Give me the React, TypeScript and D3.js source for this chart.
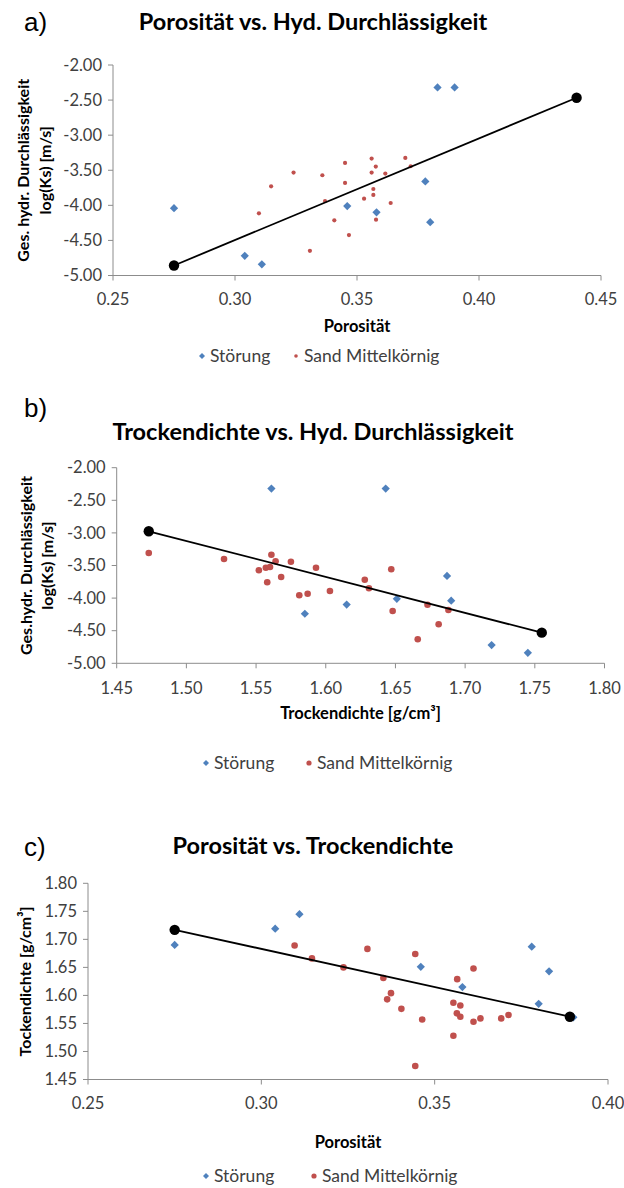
import React from "react";
import * as d3 from "d3";

// ---------- data ----------
const stoerungPorositaet = [0.275, 0.304, 0.311, 0.346, 0.358, 0.378, 0.38, 0.383, 0.39];
const stoerungLogKs = [-4.04, -4.72, -4.84, -4.01, -4.1, -3.66, -4.24, -2.32, -2.32];
const stoerungTrockendichte = [1.69, 1.719, 1.745, 1.651, 1.615, 1.687, 1.585, 1.643, 1.561];

const sandPorositaetA = [0.3098, 0.3148, 0.324, 0.3307, 0.3358, 0.3369, 0.3407, 0.3451, 0.3451, 0.3467, 0.3529, 0.356, 0.356, 0.3567, 0.3567, 0.3577, 0.3578, 0.3616, 0.3638, 0.3698, 0.372];
const sandLogKsA = [-4.114, -3.729, -3.533, -4.648, -3.571, -3.938, -4.214, -3.395, -3.681, -4.424, -3.905, -3.333, -3.533, -3.767, -3.852, -3.448, -4.205, -3.548, -3.967, -3.324, -3.443];

const sandTrockendichteB = [1.473, 1.527, 1.552, 1.557, 1.56, 1.558, 1.561, 1.564, 1.568, 1.575, 1.581, 1.587, 1.593, 1.603, 1.628, 1.631, 1.647, 1.648, 1.666, 1.673, 1.681, 1.688];
const sandLogKsB = [-3.308, -3.4, -3.574, -3.534, -3.523, -3.758, -3.334, -3.436, -3.676, -3.442, -3.957, -3.933, -3.534, -3.891, -3.718, -3.85, -3.558, -4.198, -4.632, -4.101, -4.402, -4.183];

const sandPorositaetC = [0.3096, 0.3146, 0.3237, 0.3306, 0.3352, 0.3363, 0.3374, 0.3404, 0.3444, 0.3444, 0.3464, 0.3554, 0.3554, 0.3565, 0.3564, 0.3574, 0.3574, 0.3612, 0.3612, 0.3632, 0.3692, 0.3713];
const sandTrockendichteC = [1.689, 1.666, 1.65, 1.683, 1.631, 1.593, 1.604, 1.576, 1.674, 1.474, 1.557, 1.587, 1.528, 1.629, 1.568, 1.582, 1.562, 1.648, 1.553, 1.559, 1.559, 1.565];

const trendA_x = [0.275, 0.44];
const trendA_y = [-4.857, -2.467];
const trendB_x = [1.473, 1.755];
const trendB_y = [-2.975, -4.53];
const trendC_x = [0.275, 0.389];
const trendC_y = [1.717, 1.562];

const ticksPorositaetA = [0.25, 0.3, 0.35, 0.4, 0.45];
const ticksLogKs = [-2.0, -2.5, -3.0, -3.5, -4.0, -4.5, -5.0];
const ticksTrockendichte = [1.45, 1.5, 1.55, 1.6, 1.65, 1.7, 1.75, 1.8];
const ticksPorositaetC = [0.25, 0.3, 0.35, 0.4];
const ticksDichteC = [1.45, 1.5, 1.55, 1.6, 1.65, 1.7, 1.75, 1.8];

const legendLabels = ["Störung", "Sand Mittelkörnig"];

// ---------- styles ----------
const BLUE = "#4F81BD";
const RED = "#C0504D";
const AXIS = "#8c8c8c";
const TICKTXT = "#404040";
const FONT = "Lato, 'Open Sans', sans-serif";

type PanelProps = {
  letter: string;
  letterY: number;
  title: string;
  titleY: number;
  box: { l: number; r: number; t: number; b: number };
  xDomain: [number, number];
  yDomain: [number, number];
  xTicks: number[];
  yTicks: number[];
  xTitle: string;
  xTitleY: number;
  yTitle: string[];
  yTitleX: number[];
  xLabelY: number;
  legendY: number;
  legendX: [number, number];
  stoerX: number[];
  stoerY: number[];
  sandX: number[];
  sandY: number[];
  sandR: number;
  legendR: number;
  trendX: number[];
  trendY: number[];
};

function Panel(p: PanelProps) {
  const x = d3.scaleLinear().domain(p.xDomain).range([p.box.l, p.box.r]);
  const y = d3.scaleLinear().domain(p.yDomain).range([p.box.b, p.box.t]);
  const diamond = d3.symbol().type(d3.symbolSquare).size(34)() as string;
  const line = d3
    .line<number>()
    .x((_, i) => x(p.trendX[i]))
    .y((_, i) => y(p.trendY[i]));
  const yMid = (p.box.t + p.box.b) / 2;
  const xMid = (p.box.l + p.box.r) / 2;
  return (
    <g>
      <text x={24} y={p.letterY} fontFamily="'Liberation Sans', Arial, sans-serif" fontSize={26} fill="#000">
        {p.letter}
      </text>
      <text x={313} y={p.titleY} textAnchor="middle" fontFamily={FONT} fontWeight="bold" fontSize={23.5} fill="#000">
        {p.title}
      </text>
      {/* axes */}
      <line x1={p.box.l} x2={p.box.l} y1={p.box.t} y2={p.box.b} stroke={AXIS} strokeWidth={1} />
      <line x1={p.box.l} x2={p.box.r} y1={p.box.b} y2={p.box.b} stroke={AXIS} strokeWidth={1} />
      {p.yTicks.map((t) => (
        <g key={"y" + t}>
          <line x1={p.box.l - 5} x2={p.box.l} y1={y(t)} y2={y(t)} stroke={AXIS} />
          <text x={p.box.l - 11} y={y(t)} dy="0.35em" textAnchor="end" fontFamily={FONT} fontSize={16.5} fill={TICKTXT}>
            {t.toFixed(2)}
          </text>
        </g>
      ))}
      {p.xTicks.map((t) => (
        <g key={"x" + t}>
          <line x1={x(t)} x2={x(t)} y1={p.box.b} y2={p.box.b + 5} stroke={AXIS} />
          <text x={x(t)} y={p.xLabelY} dy="0.35em" textAnchor="middle" fontFamily={FONT} fontSize={16.5} fill={TICKTXT}>
            {t.toFixed(2)}
          </text>
        </g>
      ))}
      <text x={xMid} y={p.xTitleY} dy="0.35em" textAnchor="middle" fontFamily={FONT} fontWeight="bold" fontSize={16.5} fill="#000">
        {p.xTitle}
      </text>
      {p.yTitle.map((s, i) => (
        <text
          key={s}
          transform={`translate(${p.yTitleX[i]},${yMid}) rotate(-90)`}
          dy="0.35em"
          textAnchor="middle"
          fontFamily={FONT}
          fontWeight="bold"
          fontSize={16}
          fill="#000"
        >
          {s}
        </text>
      ))}
      {/* data */}
      {p.sandX.map((v, i) => (
        <circle key={"s" + i} cx={x(v)} cy={y(p.sandY[i])} r={p.sandR} fill={RED} />
      ))}
      {p.stoerX.map((v, i) => (
        <path key={"d" + i} d={diamond} transform={`translate(${x(v)},${y(p.stoerY[i])}) rotate(45)`} fill={BLUE} />
      ))}
      <path d={line(p.trendX) as string} stroke="#000" strokeWidth={1.8} fill="none" />
      {p.trendX.map((v, i) => (
        <circle key={"t" + i} cx={x(v)} cy={y(p.trendY[i])} r={5.2} fill="#000" />
      ))}
      {/* legend */}
      <path d={d3.symbol().type(d3.symbolSquare).size(18)() as string} transform={`translate(${p.legendX[0]},${p.legendY}) rotate(45)`} fill={BLUE} />
      <text x={p.legendX[0] + 8} y={p.legendY} dy="0.35em" fontFamily={FONT} fontSize={17.5} fill={TICKTXT}>
        {legendLabels[0]}
      </text>
      <circle cx={p.legendX[1]} cy={p.legendY} r={p.legendR} fill={RED} />
      <text x={p.legendX[1] + 8} y={p.legendY} dy="0.35em" fontFamily={FONT} fontSize={17.5} fill={TICKTXT}>
        {legendLabels[1]}
      </text>
    </g>
  );
}

export default function App() {
  return (
    <svg width={624} height={1188} style={{ position: "absolute", left: 0, top: 0, background: "#fff" }}>
      <rect width={624} height={1188} fill="#fff" />
      <Panel
        letter="a)"
        letterY={31}
        title="Porosität vs. Hyd. Durchlässigkeit"
        titleY={30}
        box={{ l: 113, r: 601, t: 65, b: 275.5 }}
        xDomain={[0.25, 0.45]}
        yDomain={[-5, -2]}
        xTicks={ticksPorositaetA}
        yTicks={ticksLogKs}
        xTitle="Porosität"
        xTitleY={326}
        yTitle={["Ges. hydr. Durchlässigkeit", "log(Ks) [m/s]"]}
        yTitleX={[23, 45]}
        xLabelY={299}
        legendY={356}
        legendX={[202, 296]}
        stoerX={stoerungPorositaet}
        stoerY={stoerungLogKs}
        sandX={sandPorositaetA}
        sandY={sandLogKsA}
        sandR={2.1}
        legendR={1.8}
        trendX={trendA_x}
        trendY={trendA_y}
      />
      <Panel
        letter="b)"
        letterY={417}
        title="Trockendichte vs. Hyd. Durchlässigkeit"
        titleY={440}
        box={{ l: 116.7, r: 604.5, t: 467.7, b: 663.3 }}
        xDomain={[1.45, 1.8]}
        yDomain={[-5, -2]}
        xTicks={ticksTrockendichte}
        yTicks={ticksLogKs}
        xTitle="Trockendichte [g/cm³]"
        xTitleY={713}
        yTitle={["Ges.hydr. Durchlässigkeit", "log(Ks) [m/s]"]}
        yTitleX={[26, 47]}
        xLabelY={688}
        legendY={763}
        legendX={[206, 309]}
        stoerX={stoerungTrockendichte}
        stoerY={stoerungLogKs}
        sandX={sandTrockendichteB}
        sandY={sandLogKsB}
        sandR={3.3}
        legendR={2.6}
        trendX={trendB_x}
        trendY={trendB_y}
      />
      <Panel
        letter="c)"
        letterY={856}
        title="Porosität vs. Trockendichte"
        titleY={854}
        box={{ l: 88, r: 608, t: 883.3, b: 1079.5 }}
        xDomain={[0.25, 0.4]}
        yDomain={[1.45, 1.8]}
        xTicks={ticksPorositaetC}
        yTicks={ticksDichteC}
        xTitle="Porosität"
        xTitleY={1142}
        yTitle={["Tockendichte [g/cm³]"]}
        yTitleX={[25]}
        xLabelY={1103}
        legendY={1176}
        legendX={[206, 314]}
        stoerX={stoerungPorositaet}
        stoerY={stoerungTrockendichte}
        sandX={sandPorositaetC}
        sandY={sandTrockendichteC}
        sandR={3.3}
        legendR={2.6}
        trendX={trendC_x}
        trendY={trendC_y}
      />
    </svg>
  );
}
